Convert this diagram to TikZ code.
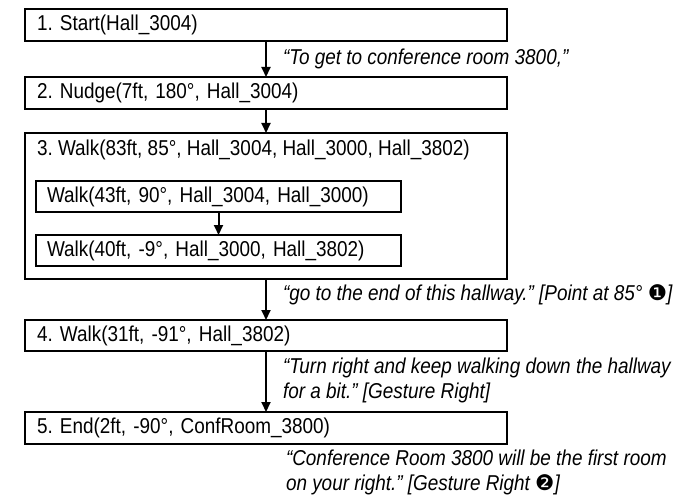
\documentclass[tikz,border=0pt]{standalone}
\usepackage{fontspec}
\setmainfont{Liberation Sans}[FakeStretch=0.88]
\newfontfamily\dingfont{DejaVu Sans}
\usetikzlibrary{positioning,arrows.meta}
\newcommand{\circnum}[1]{{\upshape\dingfont #1}}
\frenchspacing
\begin{document}
\fontsize{21.5pt}{25pt}\selectfont
\begin{tikzpicture}[inner sep=0pt,outer sep=0pt,
stepblock/.style={draw,rectangle,line width=2.3pt,minimum height=32pt,text width=458pt,inner xsep=12pt,align=left},
subblock/.style={draw,rectangle,line width=2.3pt,minimum height=31pt,text width=343pt,inner xsep=11pt,align=left},
flow/.style={-{Triangle[length=10pt,width=9pt]},line width=2pt},
quote/.style={anchor=west,xshift=17pt,align=left,font=\itshape}]
\useasboundingbox (0,0) rectangle (684pt,-497pt);
\node[stepblock,anchor=north west] (S1) at (25pt,-9pt) {1. Start(Hall\_3004)};
\node[stepblock,below=36pt of S1] (S2) {2. Nudge(7ft, 180°, Hall\_3004)};
\node[stepblock,below=24pt of S2,minimum height=146pt] (S3) {};
\node[anchor=west] (S3t) at ([xshift=12pt,yshift=-17pt]S3.north west) {3. Walk(83ft, 85°, Hall\_3004, Hall\_3000, Hall\_3802)};
\node[subblock,anchor=north west] (W1) at ([xshift=11pt,yshift=-48pt]S3.north west) {Walk(43ft, 90°, Hall\_3004, Hall\_3000)};
\node[subblock,below=23pt of W1] (W2) {Walk(40ft, -9°, Hall\_3000, Hall\_3802)};
\node[stepblock,below=41pt of S3,minimum height=31pt] (S4) {4. Walk(31ft, -91°, Hall\_3802)};
\node[stepblock,below=61pt of S4] (S5) {5. End(2ft, -90°, ConfRoom\_3800)};
\draw[flow] (S1.south) -- node[quote] (Q1) {“To get to conference room 3800,”} (S2.north);
\draw[flow] (S2.south) -- (S3.north);
\draw[flow] (W1.south) -- (W2.north);
\draw[flow] (S3.south) -- node[quote,yshift=5pt] (Q2) {“go to the end of this hallway.” [Point at 85° \circnum{❶}]} (S4.north);
\draw[flow] (S4.south) -- node[quote,yshift=1pt] (Q3) {“Turn right and keep walking down the hallway\\for a bit.” [Gesture Right]} (S5.north);
\node[anchor=north west,align=left,font=\itshape] (Q4) at ([xshift=20pt,yshift=-6pt]S5.south) {“Conference Room 3800 will be the first room\\on your right.” [Gesture Right \circnum{❷}]};
\end{tikzpicture}
\end{document}
